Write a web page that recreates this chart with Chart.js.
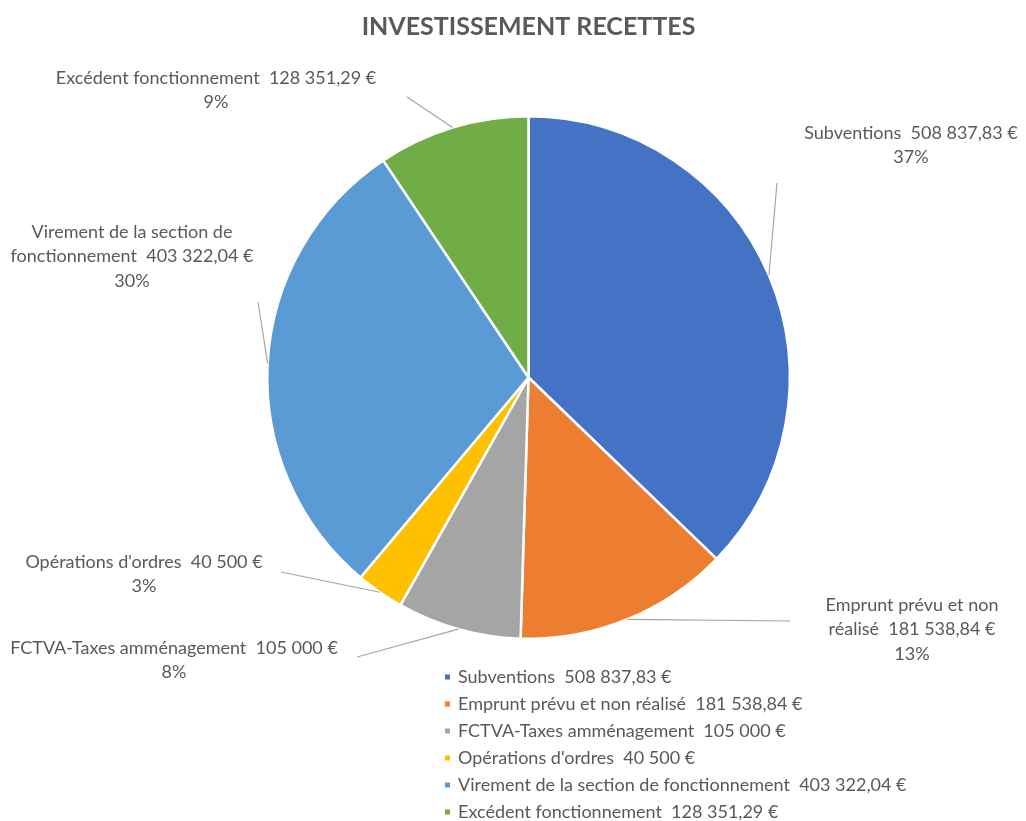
<!DOCTYPE html>
<html lang="fr">
<head>
<meta charset="utf-8">
<title>Investissement recettes</title>
<script src="https://cdn.jsdelivr.net/npm/chart.js@4.4.0/dist/chart.umd.min.js"></script>
<style>
    html, body { margin: 0; padding: 0; background: #fff; }
    canvas { display: block; }
</style>
</head>
<body>
<canvas id="pieChart" width="1026" height="821"></canvas>
<script>
// ======================= Data =======================
const categories = [
    "Subventions",
    "Emprunt prévu et non réalisé",
    "FCTVA-Taxes amménagement",
    "Opérations d'ordres",
    "Virement de la section de fonctionnement",
    "Excédent fonctionnement"
];
const amounts = [508837.83, 181538.84, 105000, 40500, 403322.04, 128351.29];
const sliceColors = ["#4472C4", "#ED7D31", "#A5A5A5", "#FFC000", "#5B9BD5", "#70AD47"];

// label boxes: text centre (x, first line y), end of leader line, wrap width
const labelLayout = [
    { x: 911, y: 133, lx: 777, ly: 183, wrap: 260 },
    { x: 912, y: 605, lx: 790, ly: 621, wrap: 190 },
    { x: 174, y: 648, lx: 357, ly: 657, wrap: 400 },
    { x: 144, y: 562, lx: 281, ly: 572, wrap: 320 },
    { x: 132, y: 232, lx: 258, ly: 302, wrap: 250 },
    { x: 216, y: 78, lx: 407, ly: 97, wrap: 400 }
];

const FONT = "Lato, 'Open Sans', sans-serif";
const TEXT_COLOR = "#595959";

function formatEuro(v) {
    const parts = v.toFixed(2).split(".");
    const intPart = parts[0].replace(/\B(?=(\d{3})+(?!\d))/g, " ");
    return (parts[1] === "00" ? intPart : intPart + "," + parts[1]) + " €";
}

// percentages rounded so that they add up to 100 (largest remainder)
function roundedPercents(values) {
    const total = values.reduce((a, b) => a + b, 0);
    const raw = values.map(v => v / total * 100);
    const out = raw.map(Math.floor);
    let left = 100 - out.reduce((a, b) => a + b, 0);
    raw.map((r, i) => ({ i, rem: r - Math.floor(r) }))
        .sort((a, b) => b.rem - a.rem)
        .forEach(o => { if (left > 0) { out[o.i]++; left--; } });
    return out;
}

function wrapText(ctx, text, maxWidth) {
    const words = text.split(" ");
    const lines = [];
    let line = "";
    words.forEach(w => {
        const test = line === "" ? w : line + " " + w;
        if (ctx.measureText(test).width > maxWidth && line !== "") {
            lines.push(line);
            line = w;
        } else {
            line = test;
        }
    });
    if (line !== "") lines.push(line);
    return lines;
}

// ======================= Plugins =======================
const outsideLabels = {
    id: "outsideLabels",
    afterDatasetsDraw(chart) {
        const ctx = chart.ctx;
        const meta = chart.getDatasetMeta(0);
        const values = chart.data.datasets[0].data;
        const pcts = roundedPercents(values);

        ctx.save();
        ctx.font = "18px " + FONT;
        ctx.textAlign = "center";
        ctx.textBaseline = "middle";

        meta.data.forEach((arc, i) => {
            const p = arc.getProps(["x", "y", "startAngle", "endAngle", "outerRadius"], true);
            const mid = (p.startAngle + p.endAngle) / 2;
            const ex = p.x + Math.cos(mid) * p.outerRadius;
            const ey = p.y + Math.sin(mid) * p.outerRadius;
            const lay = labelLayout[i];

            // leader line
            ctx.strokeStyle = "#A6A6A6";
            ctx.lineWidth = 1.2;
            ctx.beginPath();
            ctx.moveTo(ex, ey);
            ctx.lineTo(lay.lx, lay.ly);
            ctx.stroke();

            // text
            const text = chart.data.labels[i] + "  " + formatEuro(values[i]);
            const lines = wrapText(ctx, text, lay.wrap);
            lines.push(pcts[i] + "%");
            ctx.fillStyle = TEXT_COLOR;
            lines.forEach((ln, k) => ctx.fillText(ln, lay.x, lay.y + k * 24.5));
        });
        ctx.restore();
    }
};

const listLegend = {
    id: "listLegend",
    afterDraw(chart) {
        const ctx = chart.ctx;
        const values = chart.data.datasets[0].data;
        const colors = chart.data.datasets[0].backgroundColor;
        ctx.save();
        ctx.font = "18px " + FONT;
        ctx.textAlign = "left";
        ctx.textBaseline = "middle";
        chart.data.labels.forEach((lbl, i) => {
            const y = 677 + i * 27;
            ctx.fillStyle = colors[i];
            ctx.fillRect(445, y - 2.5, 5, 5);
            ctx.fillStyle = TEXT_COLOR;
            ctx.fillText(lbl + "  " + formatEuro(values[i]), 458, y);
        });
        ctx.restore();
    }
};

// ======================= Chart =======================
new Chart(document.getElementById("pieChart"), {
    type: "pie",
    data: {
        labels: categories,
        datasets: [{
            data: amounts,
            backgroundColor: sliceColors,
            borderColor: "#FFFFFF",
            borderWidth: 2.5
        }]
    },
    options: {
        responsive: false,
        animation: false,
        layout: {
            padding: { left: 266, right: 235, top: 0, bottom: 181 }
        },
        plugins: {
            legend: { display: false },
            tooltip: { enabled: false },
            title: {
                display: true,
                text: "INVESTISSEMENT RECETTES",
                color: TEXT_COLOR,
                font: { family: FONT, size: 25, weight: "bold" },
                padding: { top: 12, bottom: 73 }
            }
        }
    },
    plugins: [outsideLabels, listLegend]
});
</script>
</body>
</html>
